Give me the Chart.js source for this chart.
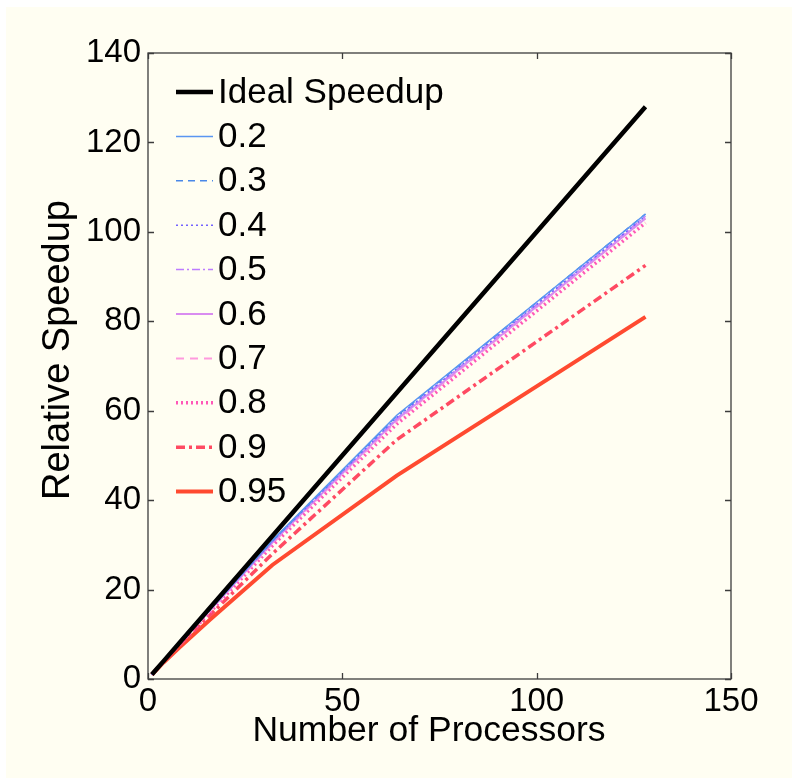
<!DOCTYPE html>
<html>
<head>
<meta charset="utf-8">
<script src="https://cdn.jsdelivr.net/npm/chart.js@4.4.1/dist/chart.umd.min.js"></script>
<style>
  html, body { margin: 0; padding: 0; background: #ffffff; }
  #wrap { width: 792px; height: 778px; }
</style>
</head>
<body>
<div id="wrap"><canvas id="myChart" width="792" height="778"></canvas></div>
<script>
// Processor counts along the x axis
const processors = [1, 2, 4, 8, 16, 32, 64, 128];

// Relative speedup for each series
const ideal = [1, 2, 4, 8, 16, 32, 64, 128];
const s02 = [1, 2, 4, 7.9, 15.6, 31, 59, 104];
const s03 = [1, 2, 4, 7.9, 15.6, 30.9, 58.8, 104];
const s04 = [1, 2, 4, 7.9, 15.5, 30.8, 58.5, 103.5];
const s05 = [1, 2, 4, 7.9, 15.5, 30.7, 58.3, 103.5];
const s06 = [1, 2, 3.98, 7.85, 15.4, 30.5, 58, 103];
const s07 = [1, 2, 3.97, 7.8, 15.3, 30.3, 57.7, 103];
const s08 = [1, 1.98, 3.95, 7.7, 15, 29.8, 57, 102];
const s09 = [1, 1.95, 3.85, 7.4, 14.3, 28, 53.5, 92.5];
const s095 = [1, 1.9, 3.7, 7, 13.3, 25.5, 45.5, 81];

const seriesLabels = ['Ideal Speedup', '0.2', '0.3', '0.4', '0.5', '0.6', '0.7', '0.8', '0.9', '0.95'];

// Axis ticks
const xTicks = [0, 50, 100, 150];
const yTicks = [0, 20, 40, 60, 80, 100, 120, 140];

const xTitle = 'Number of Processors';
const yTitle = 'Relative Speedup';

const FONT = '"Liberation Sans", Arial, Helvetica, sans-serif';

function pts(ys) {
  return processors.map((p, i) => ({ x: p, y: ys[i] }));
}

function line(label, ys, color, width, dash) {
  return {
    label: label,
    data: pts(ys),
    borderColor: color,
    backgroundColor: color,
    borderWidth: width,
    borderDash: dash,
    pointRadius: 0,
    tension: 0,
    fill: false
  };
}

const datasets = [
  line(seriesLabels[0], ideal, '#000000', 4.5, []),
  line(seriesLabels[1], s02, '#5a96f2', 1.5, []),
  line(seriesLabels[2], s03, '#4a88e8', 1.5, [7, 5]),
  line(seriesLabels[3], s04, '#7462ff', 1.5, [2, 3]),
  line(seriesLabels[4], s05, '#bd7cff', 1.5, [8, 3, 2, 3]),
  line(seriesLabels[5], s06, '#d98cf0', 2, []),
  line(seriesLabels[6], s07, '#ff9ade', 2, [8, 6]),
  line(seriesLabels[7], s08, '#ff58b8', 3.5, [2, 3]),
  line(seriesLabels[8], s09, '#ff4a62', 3.5, [9, 4, 3, 4]),
  line(seriesLabels[9], s095, '#ff4a30', 4, [])
];

// cream page background
const bgPlugin = {
  id: 'bg',
  beforeDraw(chart) {
    const c = chart.ctx;
    c.save();
    c.fillStyle = '#fffef2';
    c.fillRect(6, 7, chart.width - 6, chart.height - 7);
    c.restore();
  }
};

// box with inward ticks, plus the axis titles
const framePlugin = {
  id: 'frame',
  afterDraw(chart) {
    const c = chart.ctx;
    const a = chart.chartArea;
    const xs = chart.scales.x, ys = chart.scales.y;
    const len = 6;
    c.save();
    c.strokeStyle = '#3c3c3c';
    c.lineWidth = 1.3;
    c.strokeRect(a.left, a.top, a.right - a.left, a.bottom - a.top);
    c.beginPath();
    yTicks.forEach(v => {
      const py = Math.round(ys.getPixelForValue(v)) + 0.5;
      c.moveTo(a.left, py); c.lineTo(a.left + len, py);
      c.moveTo(a.right, py); c.lineTo(a.right - len, py);
    });
    xTicks.forEach(v => {
      const px = Math.round(xs.getPixelForValue(v)) + 0.5;
      c.moveTo(px, a.bottom); c.lineTo(px, a.bottom - len);
      c.moveTo(px, a.top); c.lineTo(px, a.top + len);
    });
    c.stroke();

    c.fillStyle = '#000000';
    c.textAlign = 'center';
    c.textBaseline = 'middle';
    c.font = '35.5px ' + FONT;
    c.fillText(xTitle, 429, 731);
    c.translate(59, 350);
    c.rotate(-Math.PI / 2);
    c.font = '38px ' + FONT;
    c.fillText(yTitle, 0, 0);
    c.restore();
  }
};

// legend drawn inside the plot, with the line styles of each dataset
const legendPlugin = {
  id: 'innerLegend',
  afterDatasetsDraw(chart) {
    const c = chart.ctx;
    const x0 = 176, x1 = 213, tx = 218;
    const y0 = 92, step = 44.4;
    c.save();
    c.font = '35px ' + FONT;
    c.textBaseline = 'middle';
    c.textAlign = 'left';
    chart.data.datasets.forEach((ds, i) => {
      const y = y0 + i * step;
      c.strokeStyle = ds.borderColor;
      c.lineWidth = ds.borderWidth;
      c.setLineDash(ds.borderDash || []);
      c.beginPath();
      c.moveTo(x0, y); c.lineTo(x1, y);
      c.stroke();
      c.setLineDash([]);
      c.fillStyle = '#000000';
      c.fillText(ds.label, tx, y + 1);
    });
    c.restore();
  }
};

const ctx = document.getElementById('myChart').getContext('2d');
const myChart = new Chart(ctx, {
  type: 'line',
  data: { datasets: datasets },
  options: {
    responsive: false,
    animation: false,
    layout: { padding: { left: 0, right: 61, top: 53, bottom: 0 } },
    plugins: { legend: { display: false }, tooltip: { enabled: false } },
    scales: {
      x: {
        type: 'linear',
        min: 0, max: 150,
        afterFit: s => { s.height = 99; },
        afterBuildTicks: s => { s.ticks = xTicks.map(v => ({ value: v })); },
        grid: { display: false, drawTicks: false, tickLength: 0 },
        border: { display: false },
        ticks: { color: '#000', padding: 3, maxRotation: 0, font: { family: FONT, size: 33 } },
        title: { display: false }
      },
      y: {
        min: 0, max: 140,
        afterFit: s => { s.width = 148; },
        afterBuildTicks: s => { s.ticks = yTicks.map(v => ({ value: v })); },
        grid: { display: false, drawTicks: false, tickLength: 0 },
        border: { display: false },
        ticks: { color: '#000', padding: 7, font: { family: FONT, size: 33 } },
        title: { display: false }
      }
    }
  },
  plugins: [bgPlugin, legendPlugin, framePlugin]
});
</script>
</body>
</html>
